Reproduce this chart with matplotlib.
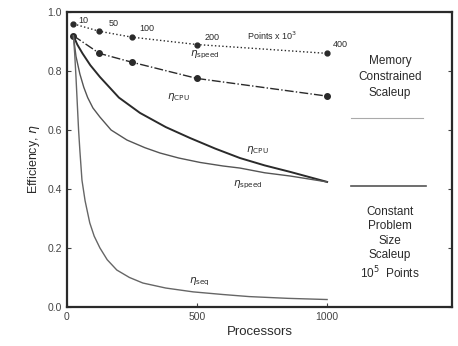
import matplotlib
matplotlib.use("Agg")
import matplotlib.pyplot as plt

plt.rcParams['font.family'] = ['Liberation Sans', 'DejaVu Sans']

# memory constrained scaleup (problem size grows with processors)
p_mem = [25, 125, 250, 500, 1000]
size_labels = ["10", "50", "100", "200", "400"]
eta_speed_mem = [0.96, 0.935, 0.915, 0.89, 0.86]
eta_cpu_mem = [0.92, 0.86, 0.83, 0.775, 0.715]

# constant problem size scaleup
p_cpu = [25, 40, 60, 90, 127, 200, 281, 380, 473, 570, 665, 760, 858, 1000]
eta_cpu_fixed = [0.92, 0.89, 0.86, 0.82, 0.78, 0.71, 0.658, 0.61, 0.573, 0.537,
                 0.505, 0.48, 0.458, 0.424]

p_speed = [25, 35, 50, 65, 80, 100, 127, 170, 231, 300, 358, 430, 512, 600, 665,
           760, 858, 1000]
eta_speed_fixed = [0.92, 0.85, 0.79, 0.745, 0.71, 0.675, 0.644, 0.60, 0.566, 0.54,
                   0.522, 0.505, 0.49, 0.478, 0.471, 0.455, 0.444, 0.424]

p_seq = [25, 30, 35, 40, 45, 50, 58, 70, 88, 105, 127, 155, 192, 240, 292, 380,
         485, 600, 700, 850, 1000]
eta_seq = [0.92, 0.86, 0.78, 0.69, 0.60, 0.53, 0.43, 0.36, 0.285, 0.24, 0.20, 0.16,
           0.125, 0.10, 0.081, 0.064, 0.051, 0.042, 0.035, 0.029, 0.025]

fig = plt.figure(figsize=(4.58, 3.46), dpi=100)
ax = fig.add_axes([0.146, 0.113, 0.841, 0.852])

dark = '#2a2a2a'
ax.plot(p_mem, eta_speed_mem, ':', color=dark, lw=1.0, marker='o', ms=3.5)
ax.plot(p_mem, eta_cpu_mem, '-.', color=dark, lw=1.0, marker='o', ms=4)
ax.plot(p_cpu, eta_cpu_fixed, '-', color=dark, lw=1.4)
ax.plot(p_speed, eta_speed_fixed, '-', color='#555555', lw=1.0)
ax.plot(p_seq, eta_seq, '-', color='#666666', lw=1.0)

# problem size labels on the top curve
offsets = [(20, 0.012), (35, 0.025), (30, 0.03), (30, 0.025), (20, 0.03)]
for p, e, lab, (dx, dy) in zip(p_mem, eta_speed_mem, size_labels, offsets):
    ax.text(p + dx, e + dy, lab, fontsize=6.5, color=dark, va='center')
ax.text(790, 0.92, r"Points x 10$^3$", fontsize=6.5, color=dark, ha='center', va='center')

ax.text(530, 0.85, r"$\eta_{\rm speed}$", fontsize=7.5, color=dark, ha='center')
ax.text(427, 0.705, r"$\eta_{\rm CPU}$", fontsize=7.5, color=dark, ha='center')
ax.text(732, 0.525, r"$\eta_{\rm CPU}$", fontsize=7.5, color=dark, ha='center')
ax.text(695, 0.41, r"$\eta_{\rm speed}$", fontsize=7.5, color=dark, ha='center')
ax.text(510, 0.08, r"$\eta_{\rm seq}$", fontsize=7.5, color=dark, ha='center')

ax.text(1242, 0.78, "Memory\nConstrained\nScaleup", fontsize=8.5, color=dark,
        ha='center', va='center', linespacing=1.4)
ax.plot([1090, 1370], [0.64, 0.64], color='#aaaaaa', lw=0.8)
ax.plot([1090, 1380], [0.41, 0.41], color='#555555', lw=1.2)
ax.text(1242, 0.215, "Constant\nProblem\nSize\nScaleup\n10$^5$  Points", fontsize=8.5,
        color=dark, ha='center', va='center', linespacing=1.25)

ax.set_xlim(0, 1480)
ax.set_ylim(0, 1.0)
ax.set_xticks([0, 500, 1000])
ax.set_yticks([0.0, 0.2, 0.4, 0.6, 0.8, 1.0])
ax.set_yticklabels(["0.0", "0.2", "0.4", "0.6", "0.8", "1.0"])
ax.tick_params(direction='in', length=3, labelsize=7.5, colors='#444444', right=True)
for s in ax.spines.values():
    s.set_linewidth(1.6)
    s.set_color(dark)
ax.set_xlabel("Processors", fontsize=9.5, color=dark, labelpad=3)
ax.set_ylabel(r"Efficiency, $\eta$", fontsize=9, color=dark)

fig.savefig("out.png", dpi=100)
